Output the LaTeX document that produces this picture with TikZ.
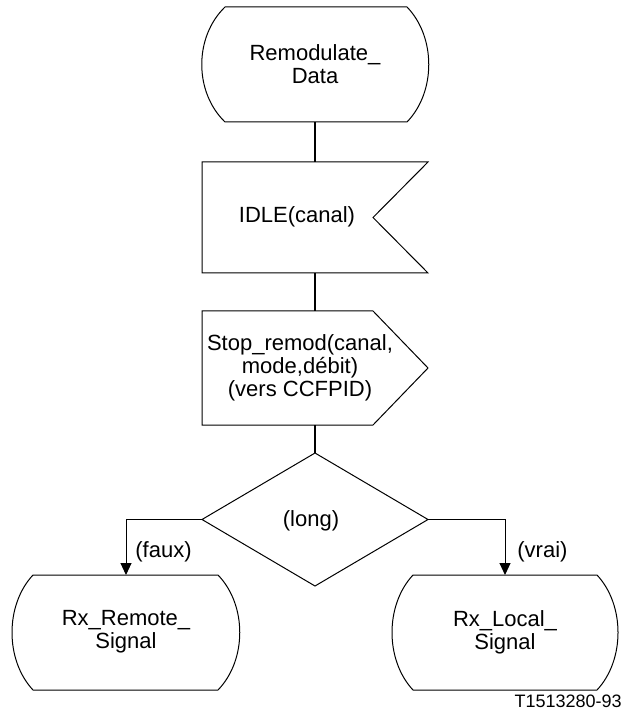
\documentclass[tikz,border=0pt]{standalone}
\usepackage{fontspec}
\setmainfont{Liberation Sans}
\usetikzlibrary{calc,arrows.meta}
\begin{document}
\begin{tikzpicture}[x=0.5pt,y=-0.5pt,
  frame/.style={draw=none,inner sep=0pt,outer sep=0pt},
  outline/.style={draw=black,line width=0.5pt,line join=miter},
  txt/.style={font=\fontsize{11pt}{11.6pt}\selectfont,align=center,inner sep=0pt},
  small/.style={font=\fontsize{9pt}{10pt}\selectfont,inner sep=0pt},
  link/.style={draw=black,line width=1pt},
  branch/.style={draw=black,line width=0.5pt,-{Triangle[length=6pt,width=5.5pt]}}]
\useasboundingbox (0,0) rectangle (624,715);
% shape frames
\node[frame,minimum width=114pt,minimum height=57.5pt] (start) at (315,64.5) {};
\node[frame,minimum width=113pt,minimum height=55.5pt] (idle) at (315,217.5) {};
\node[frame,minimum width=113pt,minimum height=57pt] (out) at (315,368) {};
\node[frame,minimum width=113pt,minimum height=66.5pt] (dec) at (315,519.5) {};
\node[frame,minimum width=114pt,minimum height=57.5pt] (rem) at (126,632.5) {};
\node[frame,minimum width=113pt,minimum height=57.5pt] (loc) at (505,632.5) {};
% state outlines
\draw[outline] ($(start.north west)+(24,0)$) -- ($(start.north east)+(-22,0)$)
  .. controls ($(start.north east)+(7,30)$) and ($(start.south east)+(7,-30)$) .. ($(start.south east)+(-22,0)$)
  -- ($(start.south west)+(24,0)$)
  .. controls ($(start.south west)+(-7,-30)$) and ($(start.north west)+(-7,30)$) .. cycle;
\draw[outline] ($(rem.north west)+(21,0)$) -- ($(rem.north east)+(-22,0)$)
  .. controls ($(rem.north east)+(7,30)$) and ($(rem.south east)+(7,-30)$) .. ($(rem.south east)+(-22,0)$)
  -- ($(rem.south west)+(21,0)$)
  .. controls ($(rem.south west)+(-7,-30)$) and ($(rem.north west)+(-7,30)$) .. cycle;
\draw[outline] ($(loc.north west)+(21,0)$) -- ($(loc.north east)+(-21,0)$)
  .. controls ($(loc.north east)+(7,30)$) and ($(loc.south east)+(7,-30)$) .. ($(loc.south east)+(-21,0)$)
  -- ($(loc.south west)+(21,0)$)
  .. controls ($(loc.south west)+(-7,-30)$) and ($(loc.north west)+(-7,30)$) .. cycle;
% input (IDLE)
\draw[outline] (idle.north west) -- (idle.north east) -- ($(idle.center)+(58,0)$)
  -- (idle.south east) -- (idle.south west) -- cycle;
% output
\draw[outline] (out.north west) -- ($(out.north east)+(-55,0)$) -- (out.east)
  -- ($(out.south east)+(-55,0)$) -- (out.south west) -- cycle;
% decision
\draw[outline] (dec.north) -- (dec.east) -- (dec.south) -- (dec.west) -- cycle;
% texts
\node[txt] (tstart) at (315,64) {Remodulate\_\\Data};
\node[txt] (tidle) at (297,217) {IDLE(canal)};
\node[txt] (tout) at (300,368) {Stop\_remod(canal,\\mode,débit)\\(vers CCFPID)};
\node[txt] (tdec) at (311,521) {(long)};
\node[txt] (trem) at (126,632) {Rx\_Remote\_\\Signal};
\node[txt] (tloc) at (505,632) {Rx\_Local\_\\Signal};
\node[txt,anchor=west] (lfaux) at (135,552) {(faux)};
\node[txt,anchor=west] (lvrai) at (517,552) {(vrai)};
\node[small,anchor=east] (ref) at (622,701) {T1513280-93};
% connectors
\draw[link] (start.south) -- (idle.north);
\draw[link] (idle.south) -- (out.north);
\draw[link] (out.south) -- (dec.north);
\draw[branch] (dec.west) -| (rem.north);
\draw[branch] (dec.east) -| (loc.north);
\end{tikzpicture}
\end{document}
